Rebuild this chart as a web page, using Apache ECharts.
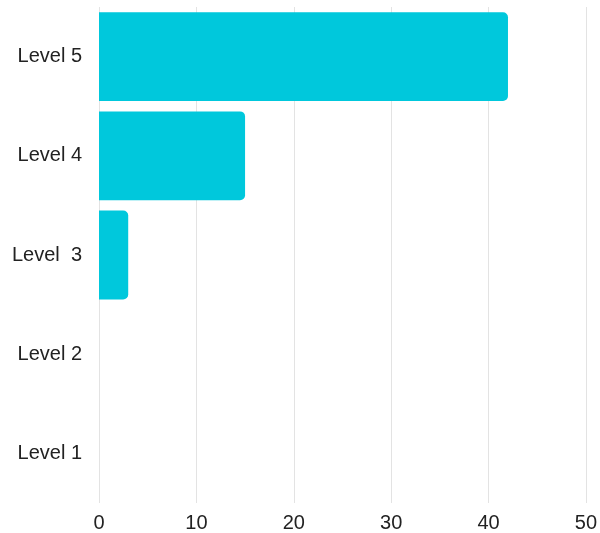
<!DOCTYPE html>
<html>
<head>
<meta charset="utf-8">
<script src="https://cdn.jsdelivr.net/npm/echarts@6/dist/echarts.min.js"></script>
<style>html,body{margin:0;padding:0;background:#fff;}#c{width:600px;height:533px;}</style>
</head>
<body>
<div id="c"></div>
<script>
var categories = ['Level 1', 'Level 2', 'Level  3', 'Level 4', 'Level 5'];
var values = [0, 0, 3, 15, 42];
var xTicks = [0, 10, 20, 30, 40, 50];

var chart = echarts.init(document.getElementById('c'), null, {renderer: 'canvas'});
chart.setOption({
  animation: false,
  grid: {left: 99, right: 11, top: 7, bottom: 27, containLabel: false},
  xAxis: {
    type: 'value', min: xTicks[0], max: xTicks[xTicks.length - 1], interval: 10,
    axisLine: {show: false}, axisTick: {show: false},
    axisLabel: {color: '#222', fontSize: 20, fontFamily: 'Liberation Sans', margin: 10},
    splitLine: {show: true, lineStyle: {color: '#e3e3e3', width: 1}}
  },
  yAxis: {
    type: 'category', data: categories,
    axisLine: {show: false}, axisTick: {show: false},
    axisLabel: {color: '#222', fontSize: 20, fontFamily: 'Liberation Sans', margin: 17}
  },
  series: [{
    type: 'bar', data: values, barCategoryGap: '10.5%',
    itemStyle: {color: '#00c8dc', borderRadius: [0, 5, 5, 0]}
  }]
});
</script>
</body>
</html>
